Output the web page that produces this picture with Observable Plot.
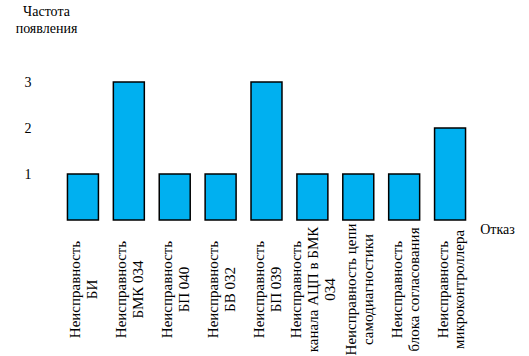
<!DOCTYPE html>
<html>
<head>
<meta charset="utf-8">
<script src="https://cdn.jsdelivr.net/npm/d3@7"></script>
<script src="https://cdn.jsdelivr.net/npm/@observablehq/plot@0.6"></script>
<style>
  html, body { margin: 0; padding: 0; background: #fff; }
  #chart { position: relative; width: 529px; height: 356px; overflow: hidden; }
</style>
</head>
<body>
<div id="chart"></div>
<script>
const categories = [
  "Неисправность\nБИ",
  "Неисправность\nБМК 034",
  "Неисправность\nБП 040",
  "Неисправность\nБВ 032",
  "Неисправность\nБП 039",
  "Неисправность\nканала АЦП в БМК\n034",
  "Неисправность цепи\nсамодиагностики",
  "Неисправность\nблока согласования",
  "Неисправность\nмикроконтроллера"
];
const counts = [1, 3, 1, 1, 3, 1, 1, 1, 2];
const yTicks = [1, 2, 3];
const yTitle = "Частота\nпоявления";
const xTitle = "Отказ";

const data = categories.map((c, i) => ({cat: c, n: counts[i]}));
const font = "Liberation Serif";

const chart = Plot.plot({
  width: 529,
  height: 356,
  marginTop: 82,
  marginBottom: 136,
  marginLeft: 60,
  marginRight: 56,
  style: {fontFamily: font, fontSize: "14px", color: "#000", background: "#fff"},
  x: {domain: categories, paddingInner: 0.325, paddingOuter: 0.1625, round: false, axis: null},
  y: {domain: [0, 3], axis: null},
  marks: [
    Plot.barY(data, {x: "cat", y: "n", fill: "#00B0F0", stroke: "#000", strokeWidth: 1.5}),
    Plot.axisY(yTicks, {tickSize: 0, tickPadding: 29, label: null, fontSize: 14, fontFamily: font, tickFormat: d => String(d)}),
    Plot.text(data, {x: "cat", text: "cat", frameAnchor: "bottom", dy: 69, rotate: -90, fontFamily: font,
      textAnchor: "middle", lineAnchor: "middle", fontSize: 15, lineHeight: 1.13, fill: "#000"}),
    Plot.text([yTitle], {frameAnchor: "top-left", dx: -14, dy: -78, text: d => d, fontFamily: font,
      textAnchor: "middle", lineAnchor: "top", fontSize: 14, lineHeight: 1.2, fill: "#000"}),
    Plot.text([xTitle], {frameAnchor: "bottom-right", dx: 24, dy: 13, text: d => d, fontFamily: font,
      textAnchor: "middle", fontSize: 14, fill: "#000"})
  ]
});
document.getElementById("chart").appendChild(chart);
</script>
</body>
</html>
